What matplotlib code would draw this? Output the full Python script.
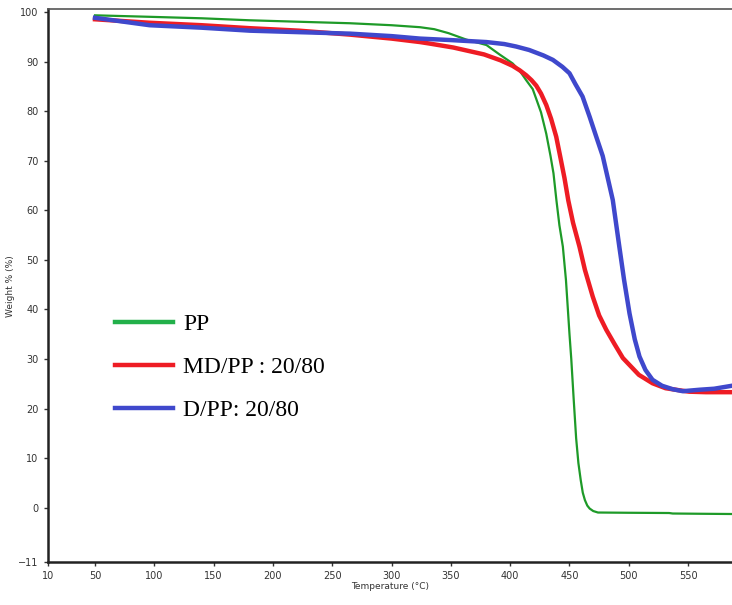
import matplotlib.pyplot as plt
from matplotlib.lines import Line2D

# TGA curves, weight % vs temperature
temp_pp = [50, 96, 140, 180, 222, 265, 300, 324, 336, 348, 363, 380, 391, 402,
           408, 413.5, 419, 422, 426, 430.4, 434, 436.5, 439, 441.5, 444.4, 447,
           450, 451.5, 453.5, 455.6, 457.5, 459.5, 461.2, 463, 465, 467, 470,
           474, 500, 534, 537, 560, 587]
weight_pp = [99.4, 99.1, 98.8, 98.4, 98.1, 97.8, 97.4, 97.0, 96.6, 95.8, 94.5,
             93.4, 91.5, 89.7, 88.2, 86.3, 84.5, 82.5, 79.8, 75.5, 71.0, 67.5,
             62.0, 57.0, 52.7, 46.0, 35.0, 30.0, 22.0, 14.0, 9.0, 5.5, 3.0, 1.5,
             0.4, -0.2, -0.7, -1.0, -1.05, -1.1, -1.2, -1.25, -1.3]

temp_md = [50, 96, 140, 180.5, 222, 265, 300, 324, 332, 352, 378, 392, 402, 408,
           413.5, 418, 422, 426, 430.4, 434.5, 438.8, 442.5, 445.8, 449, 453,
           458.4, 463, 469.6, 475, 481, 488, 495, 508.5, 520, 531, 545, 551,
           565, 587]
weight_md = [98.6, 97.9, 97.4, 96.8, 96.3, 95.5, 94.7, 94.0, 93.7, 92.9, 91.5,
             90.3, 89.2, 88.3, 87.3, 86.3, 85.2, 83.6, 81.3, 78.5, 74.9, 70.5,
             66.5, 62.0, 57.5, 52.7, 48.0, 42.6, 38.8, 35.9, 33.0, 30.2, 26.8,
             25.1, 24.1, 23.6, 23.4, 23.3, 23.3]

temp_d = [50, 96, 140, 180.5, 222, 265, 300, 324, 350, 380, 395, 405, 416, 428,
          436, 444, 450, 455, 461, 467, 472.4, 478, 482.3, 486.5, 492, 496,
          500.6, 505, 509, 514, 520, 528, 537, 545.5, 560, 572, 582, 587]
weight_d = [98.9, 97.4, 96.9, 96.3, 96.0, 95.7, 95.2, 94.7, 94.4, 94.0, 93.6,
            93.1, 92.4, 91.3, 90.4, 89.0, 87.7, 85.5, 83.0, 78.9, 75.0, 71.0,
            66.5, 62.1, 52.7, 46.0, 39.2, 34.0, 30.5, 27.8, 25.8, 24.6, 23.9,
            23.5, 23.8, 24.0, 24.4, 24.6]

labels = ['PP', 'MD/PP : 20/80', 'D/PP: 20/80']
x_ticks = [10, 50, 100, 150, 200, 250, 300, 350, 400, 450, 500, 550]
y_ticks = [-11, 0, 10, 20, 30, 40, 50, 60, 70, 80, 90, 100]

fig = plt.figure(figsize=(7.32, 6.05), dpi=100)
ax = fig.add_axes([0.065, 0.071, 0.935, 0.9135])

ax.plot(temp_pp, weight_pp, color='#1e9a28', lw=1.6)
ax.plot(temp_md, weight_md, color='#ee1c24', lw=3.2)
ax.plot(temp_d, weight_d, color='#3f48cc', lw=3.2)

ax.set_xlim(10, 587)
ax.set_ylim(-11, 100.6)
ax.set_xticks(x_ticks)
ax.set_yticks(y_ticks)
ax.tick_params(labelsize=7, colors='#333333', length=3, width=1)

ax.spines['right'].set_visible(False)
ax.spines['top'].set_color('#555555')
ax.spines['top'].set_linewidth(1.2)
for side in ['left', 'bottom']:
    ax.spines[side].set_linewidth(1.8)
    ax.spines[side].set_color('#222222')

ax.set_xlabel('Temperature (\u00b0C)', fontsize=6.5, color='#333333', labelpad=1)
ax.set_ylabel('Weight % (%)', fontsize=6.5, color='#333333', labelpad=2)

handles = [Line2D([], [], color='#22b04a', lw=3.2),
           Line2D([], [], color='#ee1c24', lw=3.2),
           Line2D([], [], color='#3f48cc', lw=3.2)]
ax.legend(handles, labels, loc='upper left', frameon=False,
          bbox_to_anchor=(0.157, 0.4815), bbox_transform=fig.transFigure,
          prop={'family': 'Liberation Serif', 'size': 17},
          handlelength=2.46, handletextpad=0.42, labelspacing=0.9,
          borderpad=0, borderaxespad=0)

fig.savefig('out.png', dpi=100)
